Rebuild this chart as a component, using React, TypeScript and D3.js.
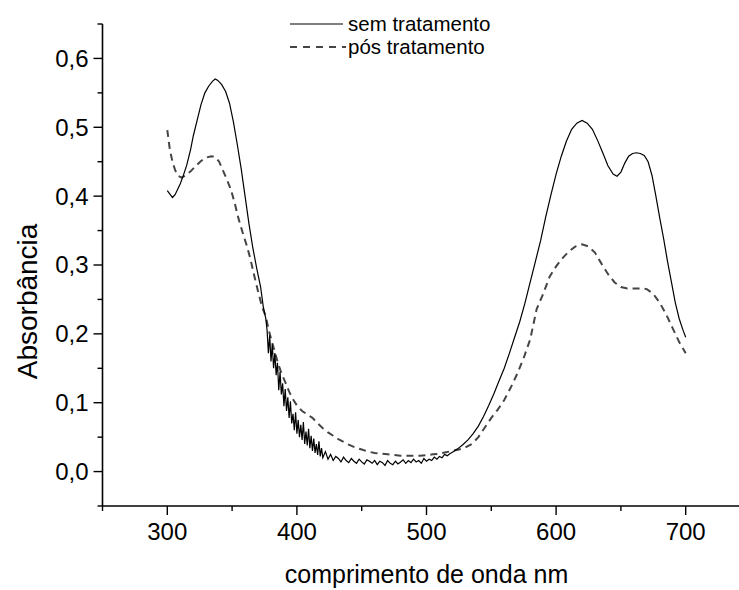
import React from "react";
import * as d3 from "d3";

const wlSem = [300,302,304,306,308,310,312,315,318,320,323,326,329,332,335,337,339,342,345,348,351,354,357,360,363,366,369,372,374,376,
377,378,379,380,381,382,383,384,385,386,387,388,389,390,391,392,393,394,395,396,397,398,399,400,401,402,403,404,405,406,407,408,409,410,411,412,413,414,415,416,417,418,419,420,
422,424,426,428,430,432,434,436,438,440,442,444,446,448,450,452,454,456,458,460,462,464,466,468,470,472,474,476,478,480,482,484,486,488,490,492,494,496,498,500,502,504,506,508,510,512,514,516,518,520,
524,528,532,536,540,544,548,552,556,560,564,568,572,576,580,584,588,592,596,600,604,608,612,616,620,624,628,632,636,640,644,647,650,653,656,659,662,665,668,671,674,677,680,683,686,689,692,695,698,700];
const absSem = [0.408,0.403,0.398,0.402,0.410,0.418,0.428,0.445,0.468,0.487,0.510,0.533,0.550,0.560,0.567,0.570,0.568,0.562,0.552,0.535,0.508,0.475,0.440,0.400,0.360,0.325,0.295,0.268,0.240,0.222,
0.205,0.172,0.198,0.160,0.185,0.150,0.172,0.140,0.158,0.118,0.145,0.112,0.128,0.095,0.120,0.088,0.108,0.078,0.102,0.070,0.084,0.060,0.086,0.055,0.075,0.050,0.068,0.046,0.072,0.040,0.058,0.038,0.062,0.034,0.052,0.030,0.048,0.027,0.040,0.024,0.044,0.022,0.034,0.020,
0.029,0.018,0.025,0.016,0.022,0.019,0.014,0.021,0.016,0.013,0.019,0.015,0.012,0.018,0.014,0.011,0.017,0.015,0.012,0.016,0.010,0.015,0.013,0.009,0.016,0.012,0.010,0.015,0.011,0.014,0.017,0.012,0.016,0.013,0.018,0.014,0.016,0.012,0.019,0.015,0.018,0.016,0.021,0.018,0.022,0.020,0.025,0.023,0.026,0.028,
0.033,0.039,0.046,0.055,0.066,0.080,0.096,0.113,0.132,0.150,0.172,0.195,0.218,0.245,0.275,0.305,0.335,0.370,0.402,0.432,0.458,0.480,0.497,0.506,0.510,0.506,0.497,0.481,0.463,0.444,0.432,0.429,0.435,0.448,0.458,0.462,0.463,0.462,0.459,0.450,0.430,0.400,0.368,0.338,0.305,0.275,0.245,0.222,0.205,0.195];

const wlPos = [300,302,304,306,308,311,314,318,322,326,330,334,337,340,343,346,349,352,355,358,361,364,367,370,373,376,379,382,385,388,391,394,397,400,404,408,412,416,420,424,428,432,436,440,445,450,455,460,465,470,475,480,485,490,495,500,505,510,515,520,525,530,535,540,545,550,555,560,565,570,575,580,585,590,595,600,605,610,615,620,625,630,635,640,645,650,655,660,665,670,675,680,685,690,695,700];
const absPos = [0.496,0.467,0.450,0.438,0.430,0.427,0.430,0.436,0.444,0.451,0.456,0.458,0.457,0.450,0.437,0.424,0.410,0.390,0.367,0.348,0.330,0.310,0.285,0.262,0.240,0.225,0.200,0.180,0.160,0.143,0.130,0.116,0.105,0.096,0.088,0.083,0.078,0.070,0.063,0.057,0.052,0.047,0.043,0.039,0.035,0.032,0.029,0.027,0.026,0.025,0.024,0.023,0.023,0.023,0.023,0.024,0.025,0.026,0.028,0.030,0.032,0.035,0.040,0.050,0.064,0.078,0.090,0.104,0.122,0.142,0.165,0.192,0.236,0.258,0.283,0.298,0.310,0.320,0.327,0.330,0.327,0.318,0.302,0.287,0.275,0.268,0.266,0.266,0.266,0.265,0.258,0.245,0.228,0.208,0.188,0.172];

const xTicksMajor = [300, 400, 500, 600, 700];
const xTicksMinor = [250, 350, 450, 550, 650, 750];
const yTicksMajor = [0, 0.1, 0.2, 0.3, 0.4, 0.5, 0.6];
const yTicksMinor = [-0.05, 0.05, 0.15, 0.25, 0.35, 0.45, 0.55, 0.65];
const seriesNames = ["sem tratamento", "pós tratamento"];

const W = 739, H = 590;
const FONT = "'Liberation Sans', Arial, sans-serif";

export default function App() {
  const x = d3.scaleLinear().domain([250, 750]).range([102.5, 750.5]);
  const y = d3.scaleLinear().domain([-0.05, 0.65]).range([506, 24]);
  const line = d3.line<[number, number]>().x(d => x(d[0])).y(d => y(d[1]));
  const semPts = wlSem.map((w, i) => [w, absSem[i]] as [number, number]);
  const posPts = wlPos.map((w, i) => [w, absPos[i]] as [number, number]);
  const x0 = x.range()[0];
  const yb = y.range()[0];
  const yt = y.range()[1];
  const fmt = (v: number) => v.toFixed(1).replace(".", ",");
  return (
    <svg width={W} height={H} style={{ position: "absolute", left: 0, top: 0, background: "#fff" }} fontFamily={FONT}>
      <rect x={0} y={0} width={W} height={H} fill="#fff" />
      <line x1={x0} x2={W} y1={yb} y2={yb} stroke="#000" strokeWidth={1.6} />
      <line x1={x0} x2={x0} y1={yt} y2={yb} stroke="#000" strokeWidth={1.6} />
      {xTicksMajor.map(t => (
        <g key={"xm" + t}>
          <line x1={x(t)} x2={x(t)} y1={yb} y2={yb + 9} stroke="#000" strokeWidth={1.4} />
          <text x={x(t)} y={yb + 34} textAnchor="middle" fontSize={24}>{t}</text>
        </g>
      ))}
      {xTicksMinor.map(t => (
        <line key={"xn" + t} x1={x(t)} x2={x(t)} y1={yb} y2={yb + 5} stroke="#000" strokeWidth={1.4} />
      ))}
      {yTicksMajor.map(t => (
        <g key={"ym" + t}>
          <line x1={x0 - 9} x2={x0} y1={y(t)} y2={y(t)} stroke="#000" strokeWidth={1.4} />
          <text x={x0 - 14} y={y(t)} dy="0.35em" textAnchor="end" fontSize={24}>{fmt(t)}</text>
        </g>
      ))}
      {yTicksMinor.map(t => (
        <line key={"yn" + t} x1={x0 - 5} x2={x0} y1={y(t)} y2={y(t)} stroke="#000" strokeWidth={1.4} />
      ))}
      <text x={(x(300) + x(700)) / 2} y={583} textAnchor="middle" fontSize={25}>comprimento de onda nm</text>
      <text transform={`translate(37, ${y(0.25) + 2}) rotate(-90)`} textAnchor="middle" fontSize={28}>Absorbância</text>
      <path d={line(posPts) || ""} fill="none" stroke="#454545" strokeWidth={2} strokeDasharray="7,5" />
      <path d={line(semPts) || ""} fill="none" stroke="#000" strokeWidth={1.2} />
      <line x1={290} x2={343} y1={24} y2={24} stroke="#000" strokeWidth={1.2} />
      <text x={348} y={24} dy="0.35em" fontSize={20.5}>{seriesNames[0]}</text>
      <line x1={290} x2={346} y1={47} y2={47} stroke="#454545" strokeWidth={2} strokeDasharray="7,6" />
      <text x={348} y={47} dy="0.35em" fontSize={20.5}>{seriesNames[1]}</text>
    </svg>
  );
}
